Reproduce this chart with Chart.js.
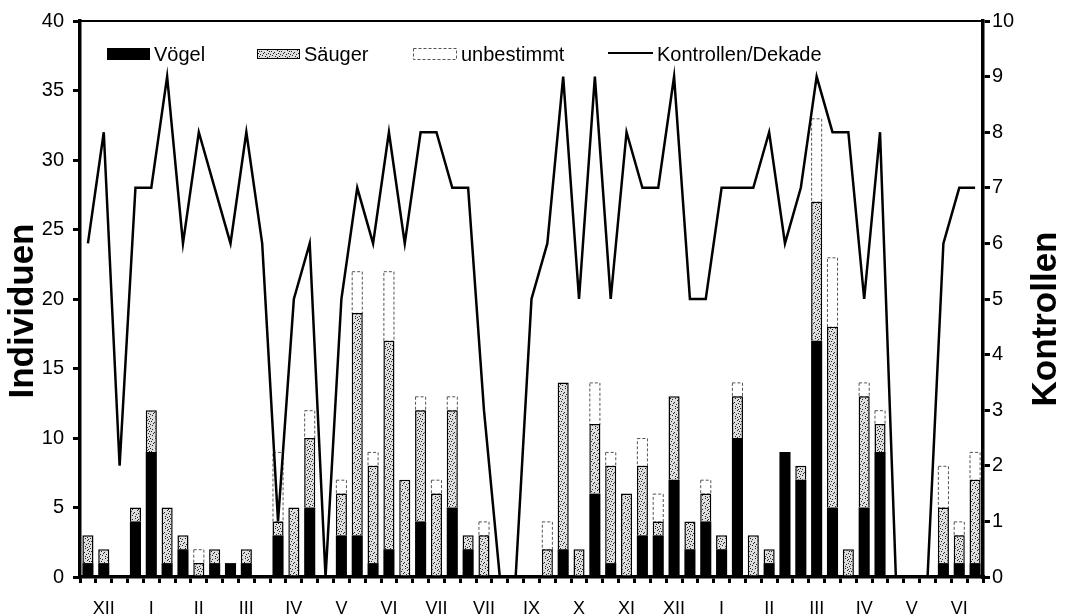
<!DOCTYPE html>
<html>
<head>
<meta charset="utf-8">
<script src="https://cdn.jsdelivr.net/npm/chart.js@4.4.1/dist/chart.umd.min.js"></script>
<style>
    html, body { margin: 0; padding: 0; background: #fff; }
    #wrap { width: 1066px; height: 615px; }
</style>
</head>
<body>
<div id="wrap"><canvas id="chart"></canvas></div>
<script>
// months, each split in three decades
const months = ["XII", "I", "II", "III", "IV", "V", "VI", "VII", "VII", "IX", "X", "XI", "XII", "I", "II", "III", "IV", "V", "VI"]
const decades = months.flatMap((m, i) => [i + "-" + m + "-1", i + "-" + m + "-2", i + "-" + m + "-3"])

// individuals per decade
const voegel = [1, 1, 0, 4, 9, 1, 2, 0, 1, 1, 1, 0, 3, 0, 5, 0, 3, 3, 1, 2, 0, 4, 0, 5, 2, 0, 0, 0, 0, 0,
    2, 0, 6, 1, 0, 3, 3, 7, 2, 4, 2, 10, 0, 1, 9, 7, 17, 5, 0, 5, 9, 0, 0, 0, 1, 1, 1]
const saeuger = [2, 1, 0, 1, 3, 4, 1, 1, 1, 0, 1, 0, 1, 5, 5, 0, 3, 16, 7, 15, 7, 8, 6, 7, 1, 3, 0, 0, 0, 2,
    12, 2, 5, 7, 6, 5, 1, 6, 2, 2, 1, 3, 3, 1, 0, 1, 10, 13, 2, 8, 2, 0, 0, 0, 4, 2, 6]
const unbestimmt = [0, 0, 0, 0, 0, 0, 0, 1, 0, 0, 0, 0, 5, 0, 2, 0, 1, 3, 1, 5, 0, 1, 1, 1, 0, 1, 0, 0, 0, 2,
    0, 0, 3, 1, 0, 2, 2, 0, 0, 1, 0, 1, 0, 0, 0, 0, 6, 5, 0, 1, 1, 0, 0, 0, 3, 1, 2]

// checks per decade (right axis)
const kontrollen = [6, 8, 2, 7, 7, 9, 6, 8, 7, 6, 8, 6, 1, 5, 6, 0, 5, 7, 6, 8, 6, 8, 8, 7, 7, 3, 0, 0, 5, 6,
    9, 5, 9, 5, 8, 7, 7, 9, 5, 5, 7, 7, 7, 8, 6, 7, 9, 8, 8, 5, 8, 0, 0, 0, 6, 7, 7]

const FONT = 'Arial, "Liberation Sans", sans-serif'

// stippled fill for the Säuger bars
function makeStipple() {
    const c = document.createElement("canvas")
    c.width = 10
    c.height = 10
    const g = c.getContext("2d")
    g.fillStyle = "#dedede"
    g.fillRect(0, 0, 10, 10)
    g.fillStyle = "#222"
    const dots = [[1, 1], [4, 2], [7, 0], [2, 5], [6, 4], [9, 6], [0, 8], [5, 8], [8, 9], [3, 3],
        [8, 3], [5, 6], [2, 9], [9, 1], [0, 4], [7, 7]]
    dots.forEach(d => g.fillRect(d[0], d[1], 1, 1))
    return g.createPattern(c, "repeat")
}
const stipple = makeStipple()

const frame = {
    id: "frame",
    afterDatasetDraw(chart, args) {
        // dashed outline for the "unbestimmt" segments
        if (args.index !== 2) return
        const ctx = chart.ctx
        ctx.save()
        ctx.setLineDash([3, 2])
        ctx.strokeStyle = "#555"
        ctx.lineWidth = 1
        args.meta.data.forEach((el, i) => {
            if (!unbestimmt[i]) return
            ctx.strokeRect(el.x - el.width / 2 + 0.5, el.y + 0.5, el.width - 1, el.base - el.y)
        })
        ctx.restore()
    },
    afterDraw(chart) {
        const ctx = chart.ctx
        const a = chart.chartArea
        ctx.save()
        // top border
        ctx.strokeStyle = "#000"
        ctx.lineWidth = 2
        ctx.beginPath()
        ctx.moveTo(a.left, a.top)
        ctx.lineTo(a.right, a.top)
        ctx.stroke()

        // axis titles, both reading bottom to top
        ctx.fillStyle = "#000"
        ctx.font = "bold 35px " + FONT
        ctx.textAlign = "center"
        ctx.textBaseline = "middle"
        ;[["Individuen", 23, 311], ["Kontrollen", 1046, 319]].forEach(t => {
            ctx.save()
            ctx.translate(t[1], t[2])
            ctx.rotate(-Math.PI / 2)
            ctx.fillText(t[0], 0, 0)
            ctx.restore()
        })

        // legend inside the plot
        ctx.font = "20px " + FONT
        ctx.textAlign = "left"
        ctx.fillRect(107, 48, 43, 12)
        ctx.fillText("Vögel", 154, 55)

        ctx.fillStyle = stipple
        ctx.fillRect(257, 49, 43, 10)
        ctx.lineWidth = 1
        ctx.strokeRect(257.5, 49.5, 42, 9)
        ctx.fillStyle = "#000"
        ctx.fillText("Säuger", 304, 55)

        ctx.setLineDash([3, 2])
        ctx.strokeStyle = "#555"
        ctx.strokeRect(413.5, 48.5, 43, 11)
        ctx.setLineDash([])
        ctx.fillText("unbestimmt", 461, 55)

        ctx.strokeStyle = "#000"
        ctx.lineWidth = 2
        ctx.beginPath()
        ctx.moveTo(608, 53)
        ctx.lineTo(653, 53)
        ctx.stroke()
        ctx.fillText("Kontrollen/Dekade", 657, 55)
        ctx.restore()
    }
}

new Chart(document.getElementById("chart"), {
    data: {
        labels: decades,
        datasets: [
            {
                type: "bar",
                label: "Vögel",
                data: voegel,
                backgroundColor: "#000",
                borderWidth: 0,
                stack: "ind",
                yAxisID: "y",
                order: 1
            },
            {
                type: "bar",
                label: "Säuger",
                data: saeuger,
                backgroundColor: stipple,
                borderColor: "#000",
                borderWidth: ctx => ctx.raw ? 1.5 : 0,
                stack: "ind",
                yAxisID: "y",
                order: 1
            },
            {
                type: "bar",
                label: "unbestimmt",
                data: unbestimmt,
                backgroundColor: "#fff",
                borderWidth: 0,
                stack: "ind",
                yAxisID: "y",
                order: 1
            },
            {
                type: "line",
                label: "Kontrollen/Dekade",
                data: kontrollen,
                borderColor: "#000",
                borderWidth: 2.5,
                pointRadius: 0,
                tension: 0,
                yAxisID: "y1",
                order: 0
            }
        ]
    },
    options: {
        responsive: true,
        maintainAspectRatio: false,
        animation: false,
        layout: { padding: { top: 17 } },
        datasets: { bar: { categoryPercentage: 1, barPercentage: 0.7 } },
        plugins: {
            legend: { display: false },
            tooltip: { enabled: false }
        },
        scales: {
            x: {
                stacked: true,
                offset: true,
                grid: { offset: true, drawOnChartArea: false, tickLength: 6, lineWidth: 3, color: "#000" },
                border: { width: 3.5, color: "#000" },
                ticks: {
                    autoSkip: false,
                    maxRotation: 0,
                    padding: 15,
                    color: "#000",
                    font: { family: FONT, size: 18 },
                    callback: (v, i) => i % 3 === 1 ? months[(i - 1) / 3] : ""
                },
                afterFit: s => { s.height = 38 }
            },
            y: {
                stacked: true,
                position: "left",
                min: 0,
                max: 40,
                ticks: { stepSize: 5, padding: 9, color: "#000", font: { family: FONT, size: 20 } },
                grid: { drawOnChartArea: false, tickLength: 7, lineWidth: 3, color: "#000" },
                border: { width: 3.5, color: "#000" },
                afterFit: s => { s.width = 80 }
            },
            y1: {
                position: "right",
                min: 0,
                max: 10,
                ticks: { stepSize: 1, padding: 2, color: "#000", font: { family: FONT, size: 20 } },
                grid: { drawOnChartArea: false, tickLength: 7, lineWidth: 3, color: "#000" },
                border: { width: 3.5, color: "#000" },
                afterFit: s => { s.width = 83 }
            }
        }
    },
    plugins: [frame]
})
</script>
</body>
</html>
